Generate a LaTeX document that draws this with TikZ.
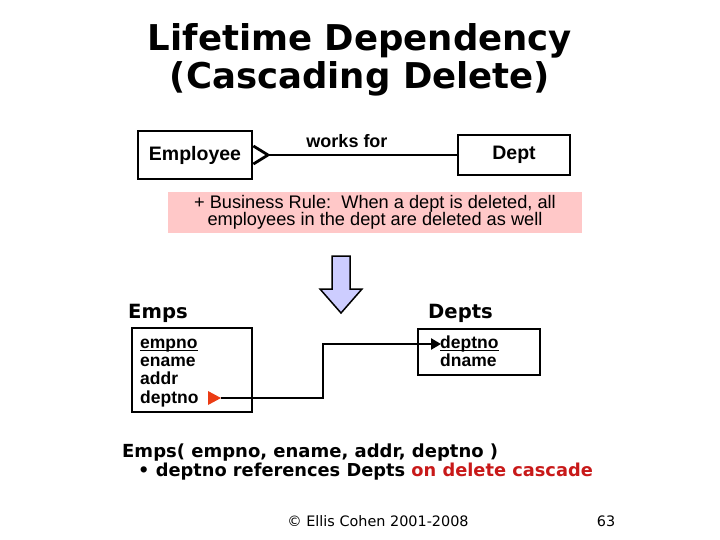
\documentclass[tikz,border=0pt]{standalone}
\usepackage{fontspec}
\setmainfont{DejaVu Sans}
\newfontfamily\arialfont{Liberation Sans}
\usepackage{xcolor}
\usetikzlibrary{positioning,arrows.meta,calc}
\definecolor{rulepink}{RGB}{255,200,200}
\definecolor{arrowlilac}{RGB}{205,205,255}
\definecolor{cascadered}{RGB}{200,25,25}
\definecolor{markred}{RGB}{235,60,20}

\begin{document}
\begin{tikzpicture}[
  x=1pt, y=-1pt,
  entitybox/.style={draw, line width=2.8pt, inner sep=0pt},
  tablebox/.style={draw, line width=2.8pt, inner sep=0pt},
  boldtext/.style={font=\arialfont\bfseries\fontsize{19.5}{20}\selectfont},
  fieldtext/.style={font=\arialfont\bfseries\fontsize{17.5}{18}\selectfont, anchor=base west, inner sep=0pt},
  headtext/.style={font=\bfseries\fontsize{19.6}{20}\selectfont, anchor=base west, inner sep=0pt},
  titletext/.style={font=\bfseries\fontsize{35.5}{38}\selectfont, anchor=base},
  keyline/.style={line width=1.6pt},
  link/.style={line width=2.8pt}
]
\useasboundingbox (0,0) rectangle (720,540);
% title
\node[titletext] (title1) at (360,51) {Lifetime Dependency};
\node[titletext] (title2) at (360,89) {(Cascading Delete)};

% ER part
\node[entitybox, minimum width=114pt, minimum height=48pt] (emp) at (195,155) {};
\node[boldtext] at (emp.center) {Employee};
\node[entitybox, minimum width=112pt, minimum height=40pt] (dept) at (514,155) {};
\node[boldtext] at (dept.center) {Dept};
\coordinate (foot) at (268,155);
\node[boldtext, font=\arialfont\bfseries\fontsize{18}{20}\selectfont] (works) at (347,141) {works for};
\draw[link] (foot) -- (dept.west);
\draw[link] ($(emp.east)+(0,-9)$) -- (foot) -- ($(emp.east)+(0,9)$);

% business rule
\node[fill=rulepink, minimum width=414pt, minimum height=41pt, align=center,
  font=\arialfont\fontsize{18.2}{17}\selectfont] (rule) at (375,212.5)
  {+ Business Rule:\ \ When a dept is deleted, all\\employees in the dept are deleted as well};

% block arrow
\draw[line width=1.5pt, fill=arrowlilac] (332,256) -- (350,256) -- (350,289) -- (362,289)
  -- (341,313) -- (320,289) -- (332,289) -- cycle;

% tables
\node[headtext] (empshead) at (128,318) {Emps};
\node[headtext] (deptshead) at (428,318) {Depts};
\node[tablebox, minimum width=120pt, minimum height=84pt] (emps) at (192,370) {};
\node[tablebox, minimum width=122pt, minimum height=46pt] (depts) at (479,352) {};
\node[fieldtext] (empno) at (140,348) {empno};
\node[fieldtext] (ename) at (140,366) {ename};
\node[fieldtext] (addr) at (140,384) {addr};
\node[fieldtext] (edeptno) at (140,403) {deptno};
\node[fieldtext] (deptno) at (440,348) {deptno};
\node[fieldtext] (dname) at (440,366) {dname};
% key underlines
\draw[keyline] ([yshift=-2.5pt]empno.base west) -- ([yshift=-2.5pt]empno.base east);
\draw[keyline] ([yshift=-2.5pt]deptno.base west) -- ([yshift=-2.5pt]deptno.base east);

% foreign key reference
\fill[markred] (208,391) -- (221,398) -- (208,405) -- cycle;
\coordinate (fkstart) at (221,398);
\coordinate (fkend) at (441,344);
\draw[link, -{Triangle[length=10pt,width=11pt]}] (fkstart) -- (323,398) |- (fkend);

% schema text
\node[font=\bfseries\fontsize{18}{19}\selectfont, anchor=base west, inner sep=0pt] (schema) at (122,457)
  {Emps( empno, ename, addr, deptno )};
\node[font=\bfseries\fontsize{17.8}{19}\selectfont, anchor=base west, inner sep=0pt] (cascade) at (138,476)
  {\textbullet\ deptno references Depts \textcolor{cascadered}{on delete cascade}};

% footer
\node[font=\fontsize{14.4}{16}\selectfont] (copy) at (378,521) {\textcopyright\ Ellis Cohen 2001-2008};
\node[font=\fontsize{14.4}{16}\selectfont] (page) at (606,521) {63};
\end{tikzpicture}
\end{document}
